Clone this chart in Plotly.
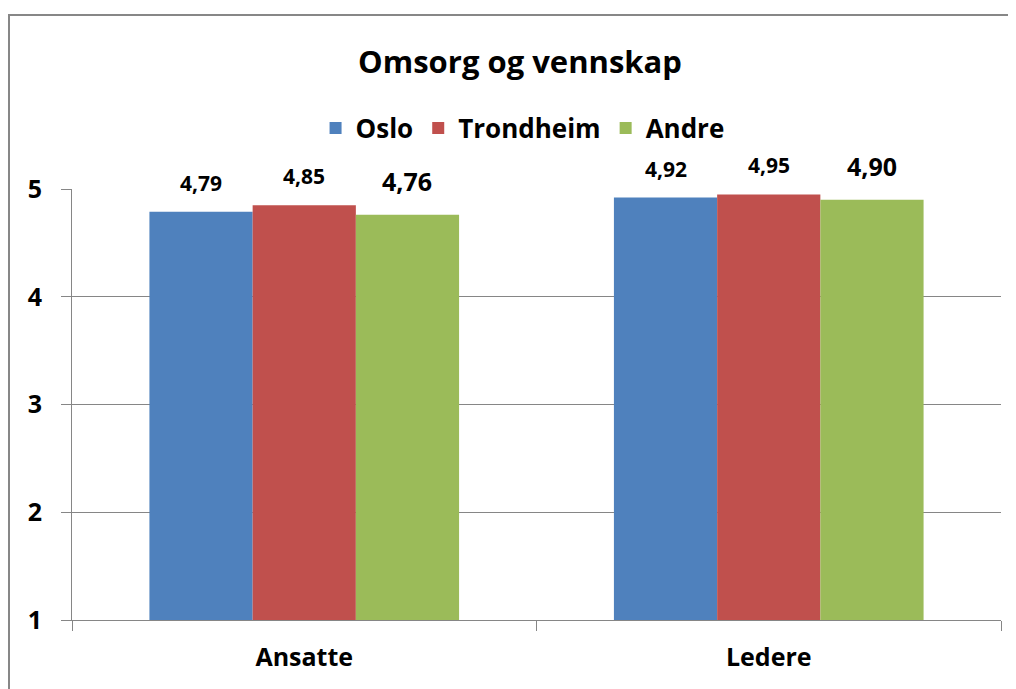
import plotly.graph_objects as go

categories = ["Ansatte", "Ledere"]
series_names = ["Oslo", "Trondheim", "Andre"]
oslo = [4.79, 4.92]
trondheim = [4.85, 4.95]
andre = [4.76, 4.90]
label_text = [["4,79", "4,92"], ["4,85", "4,95"], ["4,76", "4,90"]]
label_size = [[21, 21], [21, 21], [25, 25]]
colors = ["#4F81BD", "#C0504D", "#9BBB59"]
y_ticks = [1, 2, 3, 4, 5]

FONT = "Open Sans"
values = [oslo, trondheim, andre]

W, H = 1008, 681  # page has an 8px body margin

fig = go.Figure()
for name, vals, col in zip(series_names, values, colors):
    fig.add_trace(go.Bar(name=name, x=categories, y=vals, marker_color=col,
                         marker_line_width=0))

bargap = 1/3
bw = (1 - bargap) / 3
for si, vals in enumerate(values):
    for ci, v in enumerate(vals):
        big = label_size[si][ci] > 22
        fig.add_annotation(x=ci + (si - 1) * bw, y=v, xref="x", yref="y",
                           text=label_text[si][ci], showarrow=False,
                           yanchor="bottom", yshift=15 if big else 13,
                           font=dict(family=FONT, size=label_size[si][ci], color="black", weight="bold"))

fig.add_shape(type="rect", xref="paper", yref="paper",
              x0=(9 - 72) / 929, x1=1.2, y0=-0.4, y1=(620 - 15) / 431,
              line=dict(color="#878787", width=2), layer="below")

fig.update_layout(
    width=W, height=H,
    margin=dict(l=64, r=15, t=181, b=69),
    paper_bgcolor="white", plot_bgcolor="white",
    barmode="group", bargap=bargap, bargroupgap=0,
    font=dict(family=FONT, color="black"),
    title=dict(text="<b>Omsorg og vennskap</b>", x=(520 - 8) / W, xanchor="center",
               y=1 - (62 - 8) / H, yanchor="middle",
               font=dict(family=FONT, size=31, color="black")),
    legend=dict(orientation="h", x=0.485, xanchor="center", y=1 - (128 - 8) / H, yref="container",
                yanchor="middle", font=dict(family=FONT, size=26, color="black", weight="bold"),
                itemwidth=30, tracegroupgap=0, traceorder="normal"),
    showlegend=True,
)
fig.update_xaxes(showline=True, linecolor="#868686", linewidth=1,
                 ticks="outside", tickson="boundaries", ticklen=10, tickcolor="#868686",
                 tickfont=dict(family=FONT, size=25, color="black", weight="bold"),
                 ticklabelstandoff=15, showgrid=False)
fig.update_yaxes(range=[1, 5], tickvals=y_ticks, showline=True, linecolor="#868686", linewidth=1,
                 ticks="outside", ticklen=10, tickcolor="#868686",
                 showgrid=True, gridcolor="#868686", gridwidth=1,
                 tickfont=dict(family=FONT, size=25, color="black", weight="bold"),
                 ticklabelstandoff=14, zeroline=False)
fig.write_html("out.html")
